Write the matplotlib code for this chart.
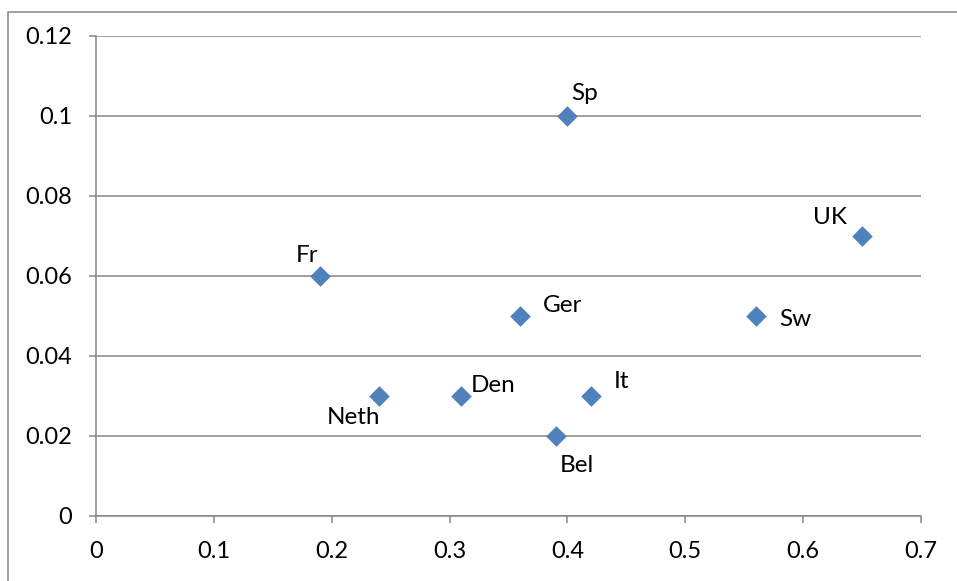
import matplotlib.pyplot as plt
from matplotlib.patches import Rectangle

plt.rcParams['font.family'] = ['Lato', 'DejaVu Sans']

countries = ["Sp", "UK", "Fr", "Ger", "Sw", "Neth", "Den", "It", "Bel"]
x_vals = [0.40, 0.65, 0.19, 0.36, 0.56, 0.24, 0.31, 0.42, 0.39]
y_vals = [0.10, 0.07, 0.06, 0.05, 0.05, 0.03, 0.03, 0.03, 0.02]
# label offsets in pixels from each marker
label_dx = [17, -32, -13, 42, 39, -25, 32, 31, 21]
label_dy = [22, 18, 20, 10, -4, -21, 11, 14, -29]

x_ticks = [0, 0.1, 0.2, 0.3, 0.4, 0.5, 0.6, 0.7]
y_ticks = [0, 0.02, 0.04, 0.06, 0.08, 0.1, 0.12]
x_labels = ["0", "0.1", "0.2", "0.3", "0.4", "0.5", "0.6", "0.7"]
y_labels = ["0", "0.02", "0.04", "0.06", "0.08", "0.1", "0.12"]

grey = "#868686"

fig = plt.figure(figsize=(9.57, 5.81), dpi=100)
fig.patches.append(Rectangle((8 / 957, -0.1), 1.2, (581 - 12) / 581 + 0.1,
                             transform=fig.transFigure, fill=False,
                             edgecolor=grey, linewidth=1.1))
ax = fig.add_axes([96 / 957, 65 / 581, 825 / 957, 480 / 581])

ax.scatter(x_vals, y_vals, marker="D", s=110, color="#4F81BD", zorder=3,
           linewidths=0)
for name, x, y, dx, dy in zip(countries, x_vals, y_vals, label_dx, label_dy):
    ax.annotate(name, (x, y), xytext=(dx * 0.72, dy * 0.72),
                textcoords="offset points", ha="center", va="center",
                fontsize=17.5, color="black")

ax.set_xlim(0, 0.7)
ax.set_ylim(0, 0.12)
ax.set_xticks(x_ticks)
ax.set_xticklabels(x_labels)
ax.set_yticks(y_ticks)
ax.set_yticklabels(y_labels)
ax.yaxis.grid(True, color=grey, linewidth=1.1)
ax.set_axisbelow(True)
for side in ["top", "right"]:
    ax.spines[side].set_visible(False)
for side in ["left", "bottom"]:
    ax.spines[side].set_color(grey)
    ax.spines[side].set_linewidth(1.1)
ax.tick_params(direction="out", length=5, width=1.1, color=grey,
               labelsize=17)
ax.tick_params(axis="y", pad=12)
ax.tick_params(axis="x", pad=13)

fig.savefig("out.png", dpi=100)
